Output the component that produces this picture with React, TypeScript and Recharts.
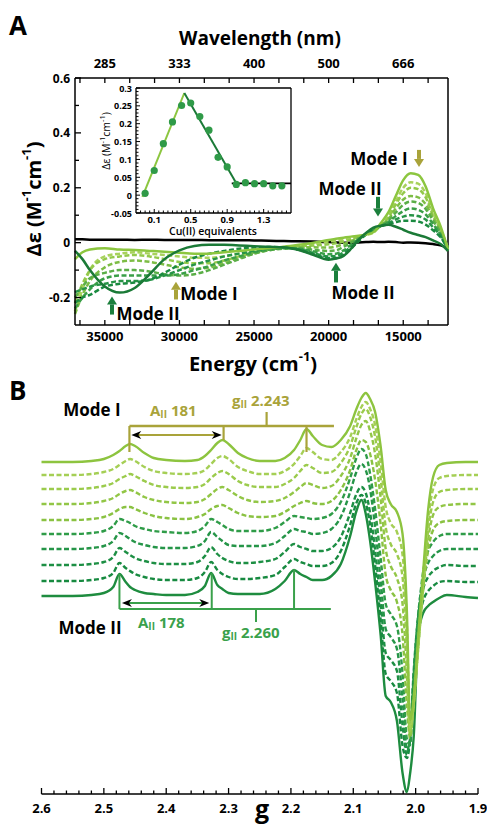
import { LineChart, Line, XAxis, YAxis, ReferenceLine, ComposedChart, Scatter } from 'recharts'

const FONT = '"Open Sans", Arial, sans-serif'
const OLIVE = '#a9a33a'
const DARK = '#1b7f3c'
const MODE2 = '#3aa14b'

// ---------- panel A: CD titration ----------
const CD_E = [37000, 36500, 36000, 35000, 34000, 33000, 32000, 31000, 30000, 29000, 28000, 27000, 26000, 25000, 24000, 23000, 22000, 21000, 20000, 19500, 19000, 18500, 18000, 17500, 17000, 16500, 16000, 15500, 15000, 14500, 14000, 13500, 13000, 12500, 12000]
const CD_T0 = [-0.06, -0.035, -0.025, -0.02, -0.025, -0.027, -0.03, -0.033, -0.037, -0.04, -0.04, -0.035, -0.03, -0.025, -0.02, -0.015, -0.008, 0, 0.01, 0.014, 0.018, 0.022, 0.025, 0.03, 0.038, 0.072, 0.11, 0.17, 0.228, 0.253, 0.247, 0.205, 0.125, 0.06, -0.025]
const CD_T1 = [-0.25, -0.17, -0.1, -0.05, -0.04, -0.035, -0.04, -0.045, -0.05, -0.055, -0.055, -0.05, -0.04, -0.03, -0.022, -0.016, -0.01, -0.004, 0.004, 0.008, 0.012, 0.018, 0.022, 0.028, 0.036, 0.065, 0.095, 0.15, 0.2, 0.22, 0.215, 0.18, 0.11, 0.05, -0.02]
const CD_T2 = [-0.22, -0.15, -0.1, -0.06, -0.05, -0.045, -0.05, -0.06, -0.07, -0.075, -0.075, -0.065, -0.05, -0.035, -0.025, -0.018, -0.013, -0.01, -0.006, -0.002, 0.004, 0.012, 0.02, 0.03, 0.04, 0.064, 0.09, 0.14, 0.18, 0.2, 0.195, 0.165, 0.1, 0.045, -0.025]
const CD_T3 = [-0.26, -0.19, -0.14, -0.09, -0.07, -0.065, -0.07, -0.08, -0.09, -0.095, -0.09, -0.075, -0.055, -0.04, -0.027, -0.02, -0.016, -0.017, -0.018, -0.014, -0.005, 0.006, 0.018, 0.03, 0.042, 0.062, 0.085, 0.125, 0.157, 0.17, 0.165, 0.14, 0.09, 0.04, -0.02]
const CD_T4 = [-0.2, -0.16, -0.13, -0.11, -0.1, -0.1, -0.105, -0.115, -0.12, -0.115, -0.1, -0.08, -0.06, -0.04, -0.028, -0.022, -0.02, -0.026, -0.03, -0.028, -0.015, 0, 0.016, 0.032, 0.045, 0.062, 0.08, 0.11, 0.138, 0.15, 0.145, 0.123, 0.08, 0.035, -0.03]
const CD_T5 = [-0.24, -0.2, -0.17, -0.13, -0.12, -0.12, -0.12, -0.12, -0.115, -0.1, -0.085, -0.065, -0.05, -0.035, -0.025, -0.02, -0.022, -0.032, -0.042, -0.04, -0.028, -0.008, 0.012, 0.03, 0.046, 0.06, 0.075, 0.097, 0.115, 0.125, 0.12, 0.103, 0.068, 0.03, -0.02]
const CD_T6 = [-0.18, -0.17, -0.16, -0.15, -0.14, -0.14, -0.135, -0.12, -0.1, -0.08, -0.065, -0.05, -0.04, -0.03, -0.022, -0.018, -0.024, -0.038, -0.05, -0.048, -0.036, -0.015, 0.008, 0.03, 0.048, 0.061, 0.07, 0.085, 0.095, 0.1, 0.097, 0.084, 0.056, 0.025, -0.03]
const CD_T7 = [-0.22, -0.2, -0.19, -0.16, -0.15, -0.145, -0.135, -0.11, -0.08, -0.055, -0.04, -0.03, -0.022, -0.018, -0.016, -0.017, -0.026, -0.042, -0.056, -0.056, -0.044, -0.022, 0.005, 0.03, 0.05, 0.061, 0.067, 0.075, 0.08, 0.08, 0.077, 0.066, 0.045, 0.02, -0.02]
const CD_T8 = [-0.03, -0.06, -0.1, -0.16, -0.182, -0.165, -0.115, -0.06, -0.028, -0.012, -0.008, -0.008, -0.01, -0.013, -0.015, -0.017, -0.027, -0.045, -0.062, -0.058, -0.048, -0.022, 0.01, 0.035, 0.055, 0.062, 0.065, 0.058, 0.047, 0.036, 0.028, 0.02, 0.008, -0.005, -0.03]
const CD_APO = [0.012, 0.012, 0.011, 0.011, 0.011, 0.01, 0.011, 0.01, 0.01, 0.01, 0.009, 0.009, 0.009, 0.008, 0.007, 0.006, 0.005, 0.004, 0.002, 0.001, 0, 0, 0.001, 0.002, 0.003, 0.002, 0.003, 0.002, 0, 0.001, 0, -0.002, -0.005, -0.01, -0.02]
const CD_TRACES = [CD_T0, CD_T1, CD_T2, CD_T3, CD_T4, CD_T5, CD_T6, CD_T7, CD_T8]
const CD_COLORS = ['#8cc63f', '#a8d25c', '#93c94a', '#7dbd45', '#5aae47', '#3a9f47', '#279446', '#1a8a40', '#1b7a37']

const CD_E_TICKS = [36667, 35000, 33333, 31667, 30000, 28333, 26667, 25000, 23333, 21667, 20000, 18333, 16667, 15000, 13333]
const CD_E_LABELS = [35000, 30000, 25000, 20000, 15000]
const NM_LABELS = ['285', '333', '400', '500', '666']
const CD_Y_TICKS = [-0.2, -0.1, 0, 0.1, 0.2, 0.3, 0.4, 0.5, 0.6]
const CD_Y_LABELS = [-0.2, 0, 0.2, 0.4, 0.6]

// ---------- inset ----------
const INSET_EQ = [0, 0.1, 0.2, 0.3, 0.4, 0.5, 0.6, 0.7, 0.8, 0.9, 1.0, 1.1, 1.2, 1.3, 1.4, 1.5]
const INSET_DE = [0.005, 0.069, 0.144, 0.205, 0.251, 0.258, 0.22, 0.182, 0.106, 0.079, 0.03, 0.035, 0.032, 0.032, 0.026, 0.026]
const FIT_UP = [{ x: -0.03, y: -0.005 }, { x: 0.43, y: 0.286 }]
const FIT_DOWN = [{ x: 0.43, y: 0.286 }, { x: 1.0, y: 0.033 }]
const FIT_FLAT = [{ x: 0.95, y: 0.033 }, { x: 1.6, y: 0.033 }]
const IN_X_TICKS = [-0.05, 0, 0.05, 0.1, 0.15, 0.2, 0.25, 0.3, 0.35, 0.4, 0.45, 0.5, 0.55, 0.6, 0.65, 0.7, 0.75, 0.8, 0.85, 0.9, 0.95, 1.0, 1.05, 1.1, 1.15, 1.2, 1.25, 1.3, 1.35, 1.4, 1.45, 1.5, 1.55]
const IN_X_LABELS = [0.1, 0.5, 0.9, 1.3]
const IN_Y_TICKS = [-0.05, -0.04, -0.03, -0.02, -0.01, 0, 0.01, 0.02, 0.03, 0.04, 0.05, 0.06, 0.07, 0.08, 0.09, 0.1, 0.11, 0.12, 0.13, 0.14, 0.15, 0.16, 0.17, 0.18, 0.19, 0.2, 0.21, 0.22, 0.23, 0.24, 0.25, 0.26, 0.27, 0.28, 0.29, 0.3]
const IN_Y_LABELS = [-0.05, 0, 0.05, 0.1, 0.15, 0.2, 0.25, 0.3]

// ---------- panel B: EPR ----------
const EPR_G = [2.6, 2.55, 2.52, 2.5, 2.485, 2.475, 2.465, 2.458, 2.45, 2.435, 2.42, 2.4, 2.37, 2.35, 2.338, 2.328, 2.318, 2.31, 2.3, 2.285, 2.27, 2.25, 2.225, 2.21, 2.195, 2.185, 2.175, 2.165, 2.15, 2.135, 2.12, 2.105, 2.095, 2.087, 2.08, 2.073, 2.065, 2.056, 2.048, 2.04, 2.03, 2.021, 2.014, 2.009, 2.003, 1.996, 1.988, 1.98, 1.972, 1.962, 1.95, 1.92, 1.9]
const EPR_S0 = [0, 0, 1, 3, 7, 11, 16, 18, 16, 9, 4, 2, 1, 2, 6, 12, 19, 22, 18, 9, 4, 1, 1, 4, 12, 22, 33, 26, 17, 15, 22, 36, 53, 64, 69, 63, 50, 15, -28, -42, -50, -72, -150, -258, -235, -175, -110, -48, -15, -3, -1, 0, 0]
const EPR_S1 = [0, 0, 1, 3, 6, 10, 14, 16, 14, 8, 4, 2, 1, 2, 5, 11, 17, 19, 16, 8, 4, 1, 1, 4, 11, 19, 27, 23, 16, 15, 23, 38, 56, 68, 73, 66, 50, 12, -32, -48, -57, -80, -150, -253, -228, -170, -105, -45, -14, -3, -1, 0, 0]
const EPR_S2 = [0, 0, 1, 3, 6, 10, 13, 15, 13, 8, 4, 2, 1, 2, 5, 11, 16, 18, 15, 8, 4, 2, 2, 5, 11, 18, 24, 21, 16, 17, 26, 43, 62, 75, 80, 72, 52, 10, -38, -55, -65, -88, -160, -243, -215, -160, -98, -42, -13, -3, -1, 0, 0]
const EPR_S3 = [0, 0, 1, 3, 6, 10, 13, 14, 12, 7, 4, 2, 1, 2, 5, 10, 15, 17, 14, 8, 4, 2, 3, 6, 12, 17, 21, 19, 16, 18, 28, 46, 66, 79, 83, 73, 50, 5, -45, -62, -74, -100, -170, -231, -200, -145, -85, -36, -11, -3, -1, 0, 0]
const EPR_S4 = [0, 0, 1, 3, 7, 11, 13, 13, 11, 7, 4, 2, 1, 3, 6, 11, 14, 15, 12, 7, 4, 3, 4, 8, 14, 17, 19, 17, 16, 19, 30, 50, 70, 80, 78, 66, 40, -5, -55, -70, -82, -115, -185, -218, -180, -125, -70, -30, -10, -3, -1, 0, 0]
const EPR_S5 = [0, 0, 1, 3, 8, 15, 13, 11, 8, 5, 3, 2, 1, 3, 8, 15, 12, 9, 5, 3, 3, 3, 6, 12, 18, 17, 16, 15, 16, 20, 32, 56, 76, 85, 80, 60, 25, -25, -70, -80, -92, -140, -205, -211, -150, -85, -38, -17, -8, -2, 0, 0, 0]
const EPR_S6 = [0, 0, 1, 3, 8, 16, 13, 10, 7, 4, 2, 1, 1, 3, 8, 17, 12, 8, 4, 3, 3, 3, 6, 13, 20, 18, 17, 15, 16, 20, 32, 57, 77, 85, 79, 60, 22, -32, -80, -88, -100, -150, -201, -190, -125, -66, -30, -14, -7, -2, 0, 0, 0]
const EPR_S7 = [0, 0, 1, 3, 8, 17, 13, 10, 7, 4, 2, 1, 1, 3, 9, 18, 11, 7, 4, 2, 2, 3, 6, 13, 21, 18, 16, 14, 14, 17, 28, 52, 71, 78, 72, 52, 15, -38, -88, -95, -106, -160, -190, -172, -105, -52, -24, -12, -6, -2, 0, -1, -1]
const EPR_S8 = [0, 0, 1, 3, 8, 18, 13, 10, 7, 4, 2, 1, 1, 3, 9, 19, 11, 7, 4, 2, 2, 3, 6, 14, 22, 19, 17, 15, 15, 18, 30, 56, 78, 86, 78, 56, 16, -40, -93, -100, -112, -165, -177, -158, -95, -45, -20, -10, -5, -1, 0, -1, -1]
const EPR_S9 = [0, 0, 1, 3, 9, 22, 14, 9, 6, 3, 2, 1, 1, 4, 10, 23, 11, 7, 3, 2, 2, 2, 7, 15, 26, 22, 19, 16, 16, 20, 32, 60, 85, 96, 82, 55, 14, -40, -100, -106, -125, -177, -196, -178, -140, -40, -17, -10, -6, -2, 1, -1, -2]
const EPR_SHAPES = [EPR_S0, EPR_S1, EPR_S2, EPR_S3, EPR_S4, EPR_S5, EPR_S6, EPR_S7, EPR_S8, EPR_S9]
const EPR_OFFSET = [332, 319, 305, 290, 274, 260, 245, 229, 213, 198]
const EPR_COLORS = ['#8dc43f', '#a5cf55', '#9bcb4c', '#92c646', '#8ac242', '#2f9c48', '#259548', '#1d8f44', '#178a40', '#1e8c3f']
const G_TICKS = [2.6, 2.58, 2.56, 2.54, 2.52, 2.5, 2.48, 2.46, 2.44, 2.42, 2.4, 2.38, 2.36, 2.34, 2.32, 2.3, 2.28, 2.26, 2.24, 2.22, 2.2, 2.18, 2.16, 2.14, 2.12, 2.1, 2.08, 2.06, 2.04, 2.02, 2.0, 1.98, 1.96, 1.94, 1.92, 1.9]
const G_LABELS = [2.6, 2.5, 2.4, 2.3, 2.2, 2.1, 2.0, 1.9]

// stick diagrams (g positions, intensity units of the stacked plot)
const MODE1_G = [2.459, 2.308, 2.175]
const MODE1_TIPS = [342, 354, 342]
const MODE2_G = [2.475, 2.327, 2.195]
const MODE2_TIPS = [220, 221, 225]

const cdRows = CD_E.map((E, i) => {
  const r: any = { E, apo: CD_APO[i] }
  CD_TRACES.forEach((t, k) => (r['t' + k] = t[i]))
  return r
})
const eprRows = EPR_G.map((g, i) => {
  const r: any = { g }
  EPR_SHAPES.forEach((s, k) => (r['s' + k] = EPR_OFFSET[k] + s[i]))
  return r
})
const insetPts = INSET_EQ.map((x, i) => ({ x, y: INSET_DE[i] }))

const near = (arr: number[], v: number) => arr.some((a) => Math.abs(a - v) < 1e-6)
const txt = { fontFamily: FONT, fontWeight: 700, fill: '#000' } as const

const cdLeftTick = (p: any) => {
  const v = p.payload.value
  const lab = near(CD_Y_LABELS, v)
  return (
    <g>
      <line x1={p.x} y1={p.y} x2={p.x + (lab ? 6 : 4)} y2={p.y} stroke="#000" strokeWidth={1.3} />
      {lab && <text x={p.x - 5} y={p.y} textAnchor="end" dominantBaseline="central" fontSize={12} {...txt}>{String(v)}</text>}
    </g>
  )
}
const cdBottomTick = (p: any) => {
  const v = p.payload.value
  const lab = near(CD_E_LABELS, v)
  return (
    <g>
      <line x1={p.x} y1={p.y} x2={p.x} y2={p.y - 5} stroke="#000" strokeWidth={1.3} />
      {lab && <text x={p.x} y={p.y + 11} textAnchor="middle" dominantBaseline="central" fontSize={13} {...txt}>{String(v)}</text>}
    </g>
  )
}
const cdTopTick = (p: any) => {
  const v = p.payload.value
  const idx = CD_E_LABELS.findIndex((a) => Math.abs(a - v) < 1e-6)
  return (
    <g>
      <line x1={p.x} y1={p.y} x2={p.x} y2={p.y + 5} stroke="#000" strokeWidth={1.3} />
      {idx >= 0 && <text x={p.x} y={p.y - 15} textAnchor="middle" dominantBaseline="central" fontSize={13} {...txt}>{NM_LABELS[idx]}</text>}
    </g>
  )
}
const inLeftTick = (p: any) => {
  const v = p.payload.value
  const lab = near(IN_Y_LABELS, v)
  return (
    <g>
      <line x1={p.x} y1={p.y} x2={p.x + (lab ? 4 : 2.5)} y2={p.y} stroke="#000" strokeWidth={1} />
      {lab && <text x={p.x - 4} y={p.y} textAnchor="end" dominantBaseline="central" fontSize={9} {...txt}>{String(Math.round(v * 100) / 100)}</text>}
    </g>
  )
}
const inBottomTick = (p: any) => {
  const v = p.payload.value
  const lab = near(IN_X_LABELS, v)
  return (
    <g>
      <line x1={p.x} y1={p.y} x2={p.x} y2={p.y - (lab ? 4 : 2.5)} stroke="#000" strokeWidth={1} />
      {lab && <text x={p.x} y={p.y + 6} textAnchor="middle" dominantBaseline="central" fontSize={9.5} {...txt}>{v.toFixed(1)}</text>}
    </g>
  )
}
const gTick = (p: any) => {
  const v = p.payload.value
  const lab = near(G_LABELS, v)
  return (
    <g>
      <line x1={p.x} y1={p.y} x2={p.x} y2={p.y - (lab ? 6 : 3.5)} stroke="#000" strokeWidth={1.3} />
      {lab && <text x={p.x} y={p.y + 14} textAnchor="middle" dominantBaseline="central" fontSize={13} {...txt}>{v.toFixed(1)}</text>}
    </g>
  )
}

const vArrow = (color: string) => (p: any) => {
  const { x1, y1, x2, y2 } = p
  const dir = y2 > y1 ? 1 : -1
  const hy = y2 - dir * 8
  return (
    <g>
      <line x1={x1} y1={y1} x2={x2} y2={hy} stroke={color} strokeWidth={4} />
      <polygon points={`${x2 - 5},${hy} ${x2 + 5},${hy} ${x2},${y2}`} fill={color} />
    </g>
  )
}
const hDouble = (color: string) => (p: any) => {
  const a = Math.min(p.x1, p.x2)
  const b = Math.max(p.x1, p.x2)
  const y = p.y1
  return (
    <g>
      <line x1={a + 5} y1={y} x2={b - 5} y2={y} stroke={color} strokeWidth={2} />
      <polygon points={`${a},${y} ${a + 10},${y - 4} ${a + 7},${y} ${a + 10},${y + 4}`} fill="#000" />
      <polygon points={`${b},${y} ${b - 10},${y - 4} ${b - 7},${y} ${b - 10},${y + 4}`} fill="#000" />
    </g>
  )
}

const Sub = ({ t }: { t: string }) => (
  <>
    <tspan fontSize={10} dy={4}>II</tspan>
    <tspan dy={-4}>{t}</tspan>
  </>
)

export default function App() {
  const cdOrder = [1, 2, 3, 4, 5, 6, 7, 0, 8]
  return (
    <div style={{ position: 'absolute', left: 0, top: 0, width: 487, height: 826, background: '#fff', fontFamily: FONT }}>
      {/* panel A */}
      <div style={{ position: 'absolute', left: 0, top: 0 }}>
        <LineChart width={487} height={345} data={cdRows} margin={{ top: 48, right: 39, bottom: 0, left: 35 }}>
          <XAxis xAxisId="b" dataKey="E" type="number" domain={[12000, 37000]} reversed ticks={CD_E_TICKS} interval={0} tick={cdBottomTick} tickLine={false} tickSize={0} tickMargin={0} height={20} axisLine={{ stroke: '#000', strokeWidth: 1.5 }} />
          <XAxis xAxisId="t" orientation="top" dataKey="E" type="number" domain={[12000, 37000]} reversed ticks={CD_E_TICKS} interval={0} tick={cdTopTick} tickLine={false} tickSize={0} tickMargin={0} height={30} axisLine={{ stroke: '#000', strokeWidth: 1.5 }} />
          <YAxis type="number" domain={[-0.3, 0.6]} ticks={CD_Y_TICKS} interval={0} tick={cdLeftTick} tickLine={false} tickSize={0} tickMargin={0} width={40} axisLine={{ stroke: '#000', strokeWidth: 1.5 }} />
          <ReferenceLine xAxisId="b" x={12000} stroke="#000" strokeWidth={1.5} />
          <Line xAxisId="b" dataKey="apo" type="monotone" stroke="#000" strokeWidth={2.5} dot={false} isAnimationActive={false} />
          {cdOrder.map((k) => (
            <Line key={k} xAxisId="b" dataKey={'t' + k} type="monotone" stroke={CD_COLORS[k]} strokeWidth={2.5}
              strokeDasharray={k === 0 || k === 8 ? undefined : '5 2.5'} dot={false} isAnimationActive={false} />
          ))}
          <ReferenceLine xAxisId="b" segment={[{ x: 13944, y: 0.338 }, { x: 13944, y: 0.276 }]} shape={vArrow(OLIVE)} />
          <ReferenceLine xAxisId="b" segment={[{ x: 16692, y: 0.167 }, { x: 16692, y: 0.095 }]} shape={vArrow(DARK)} />
          <ReferenceLine xAxisId="b" segment={[{ x: 19507, y: -0.145 }, { x: 19507, y: -0.073 }]} shape={vArrow(DARK)} />
          <ReferenceLine xAxisId="b" segment={[{ x: 30231, y: -0.207 }, { x: 30231, y: -0.142 }]} shape={vArrow(OLIVE)} />
          <ReferenceLine xAxisId="b" segment={[{ x: 34520, y: -0.262 }, { x: 34520, y: -0.196 }]} shape={vArrow(DARK)} />
        </LineChart>
      </div>

      {/* inset */}
      <div style={{ position: 'absolute', left: 100, top: 78 }}>
        <ComposedChart width={196} height={151} margin={{ top: 10, right: 5, bottom: 2, left: 6 }}>
          <XAxis dataKey="x" type="number" domain={[-0.1, 1.6]} ticks={IN_X_TICKS} interval={0} tick={inBottomTick} tickLine={false} tickSize={0} tickMargin={0} height={14} axisLine={{ stroke: '#000', strokeWidth: 1.3 }} allowDataOverflow />
          <YAxis dataKey="y" type="number" domain={[-0.05, 0.3]} ticks={IN_Y_TICKS} interval={0} tick={inLeftTick} tickLine={false} tickSize={0} tickMargin={0} width={30} axisLine={{ stroke: '#000', strokeWidth: 1.3 }} allowDataOverflow />
          <ReferenceLine y={0.3} stroke="#000" strokeWidth={1.3} />
          <ReferenceLine x={1.6} stroke="#000" strokeWidth={1.3} />
          <Line data={FIT_UP} dataKey="y" type="linear" stroke="#8cc63f" strokeWidth={2} dot={false} isAnimationActive={false} />
          <Line data={FIT_DOWN} dataKey="y" type="linear" stroke="#1b7a37" strokeWidth={2} dot={false} isAnimationActive={false} />
          <Line data={FIT_FLAT} dataKey="y" type="linear" stroke="#000" strokeWidth={1.6} dot={false} isAnimationActive={false} />
          <Scatter data={insetPts} dataKey="y" isAnimationActive={false}
            shape={(p: any) => <circle cx={p.cx} cy={p.cy} r={3.6} fill="#2f9a48" />} />
        </ComposedChart>
      </div>

      {/* panel B */}
      <div style={{ position: 'absolute', left: 0, top: 370 }}>
        <LineChart width={487} height={456} data={eprRows} margin={{ top: 10, right: 9, bottom: 12, left: 41.5 }}>
          <XAxis dataKey="g" type="number" domain={[1.9, 2.6]} reversed ticks={G_TICKS} interval={0} tick={gTick} tickLine={false} tickSize={0} tickMargin={0} height={20} axisLine={{ stroke: '#000', strokeWidth: 1.5 }} />
          <YAxis hide type="number" domain={[0, 414]} />
          {[9, 8, 7, 6, 5, 4, 3, 2, 1, 0].map((k) => (
            <Line key={k} dataKey={'s' + k} type="monotone" stroke={EPR_COLORS[k]} strokeWidth={2.4}
              strokeDasharray={k === 0 || k === 9 ? undefined : '5 2.5'} dot={false} isAnimationActive={false} />
          ))}
          {/* Mode I stick diagram */}
          <ReferenceLine segment={[{ x: MODE1_G[0], y: 368 }, { x: 2.131, y: 368 }]} stroke={OLIVE} strokeWidth={2.5} />
          {MODE1_G.map((g, i) => (
            <ReferenceLine key={'m1' + i} segment={[{ x: g, y: 368 }, { x: g, y: MODE1_TIPS[i] }]} stroke={OLIVE} strokeWidth={2.2} />
          ))}
          <ReferenceLine segment={[{ x: 2.239, y: 368 }, { x: 2.239, y: 382 }]} stroke={OLIVE} strokeWidth={2.2} />
          <ReferenceLine segment={[{ x: 2.456, y: 359 }, { x: 2.311, y: 359 }]} shape={hDouble(OLIVE)} />
          {/* Mode II stick diagram */}
          <ReferenceLine segment={[{ x: MODE2_G[0], y: 185 }, { x: 2.136, y: 185 }]} stroke={MODE2} strokeWidth={2.2} />
          {MODE2_G.map((g, i) => (
            <ReferenceLine key={'m2' + i} segment={[{ x: g, y: 185 }, { x: g, y: MODE2_TIPS[i] }]} stroke={MODE2} strokeWidth={2} />
          ))}
          <ReferenceLine segment={[{ x: 2.256, y: 185 }, { x: 2.256, y: 172 }]} stroke={MODE2} strokeWidth={2} />
          <ReferenceLine segment={[{ x: 2.471, y: 191 }, { x: 2.331, y: 191 }]} shape={hDouble(MODE2)} />
        </LineChart>
      </div>

      {/* text layer */}
      <svg width={487} height={826} style={{ position: 'absolute', left: 0, top: 0, pointerEvents: 'none' }}>
        <text x={9} y={25} dominantBaseline="central" fontSize={26} {...txt}>A</text>
        <text x={260} y={38} textAnchor="middle" dominantBaseline="central" fontSize={19} {...txt}>Wavelength (nm)</text>
        <text x={33} y={199} textAnchor="middle" dominantBaseline="central" fontSize={20} transform="rotate(-90 33 199)" {...txt}>
          Δε (M<tspan fontSize={13} dy={-7}>-1</tspan><tspan dy={7}>cm</tspan><tspan fontSize={13} dy={-7}>-1</tspan><tspan dy={7}>)</tspan>
        </text>
        <text x={253} y={363} textAnchor="middle" dominantBaseline="central" fontSize={20} {...txt}>
          Energy (cm<tspan fontSize={13} dy={-7}>-1</tspan><tspan dy={7}>)</tspan>
        </text>
        <text x={379} y={158} textAnchor="middle" dominantBaseline="central" fontSize={17} {...txt}>Mode I</text>
        <text x={350} y={188} textAnchor="middle" dominantBaseline="central" fontSize={17} {...txt}>Mode II</text>
        <text x={363} y={292} textAnchor="middle" dominantBaseline="central" fontSize={17} {...txt}>Mode II</text>
        <text x={209} y={293} textAnchor="middle" dominantBaseline="central" fontSize={17} {...txt}>Mode I</text>
        <text x={148} y={313} textAnchor="middle" dominantBaseline="central" fontSize={17} {...txt}>Mode II</text>
        <text x={106} y={141} textAnchor="middle" dominantBaseline="central" fontSize={10.5} fontFamily={FONT} transform="rotate(-90 106 141)">
          Δε (M<tspan fontSize={7.5} dy={-4}>-1</tspan><tspan dy={4}>cm</tspan><tspan fontSize={7.5} dy={-4}>-1</tspan><tspan dy={4}>)</tspan>
        </text>
        <text x={213} y={231} textAnchor="middle" dominantBaseline="central" fontSize={10.5} fontFamily={FONT} fontWeight={600}>Cu(II) equivalents</text>

        <text x={9} y={390} dominantBaseline="central" fontSize={26} {...txt}>B</text>
        <text x={92} y={409} textAnchor="middle" dominantBaseline="central" fontSize={17} {...txt}>Mode I</text>
        <text x={150} y={410} dominantBaseline="central" fontSize={15} fontFamily={FONT} fontWeight={700} fill={OLIVE}>A<Sub t=" 181" /></text>
        <text x={232} y={400} dominantBaseline="central" fontSize={15} fontFamily={FONT} fontWeight={700} fill={OLIVE}>g<Sub t=" 2.243" /></text>
        <text x={90} y={627} textAnchor="middle" dominantBaseline="central" fontSize={17} {...txt}>Mode II</text>
        <text x={138} y={622} dominantBaseline="central" fontSize={15} fontFamily={FONT} fontWeight={700} fill={MODE2}>A<Sub t=" 178" /></text>
        <text x={222} y={632} dominantBaseline="central" fontSize={15} fontFamily={FONT} fontWeight={700} fill={MODE2}>g<Sub t=" 2.260" /></text>
        <text x={262} y={818} textAnchor="middle" fontSize={25} {...txt}>g</text>
      </svg>
    </div>
  )
}
